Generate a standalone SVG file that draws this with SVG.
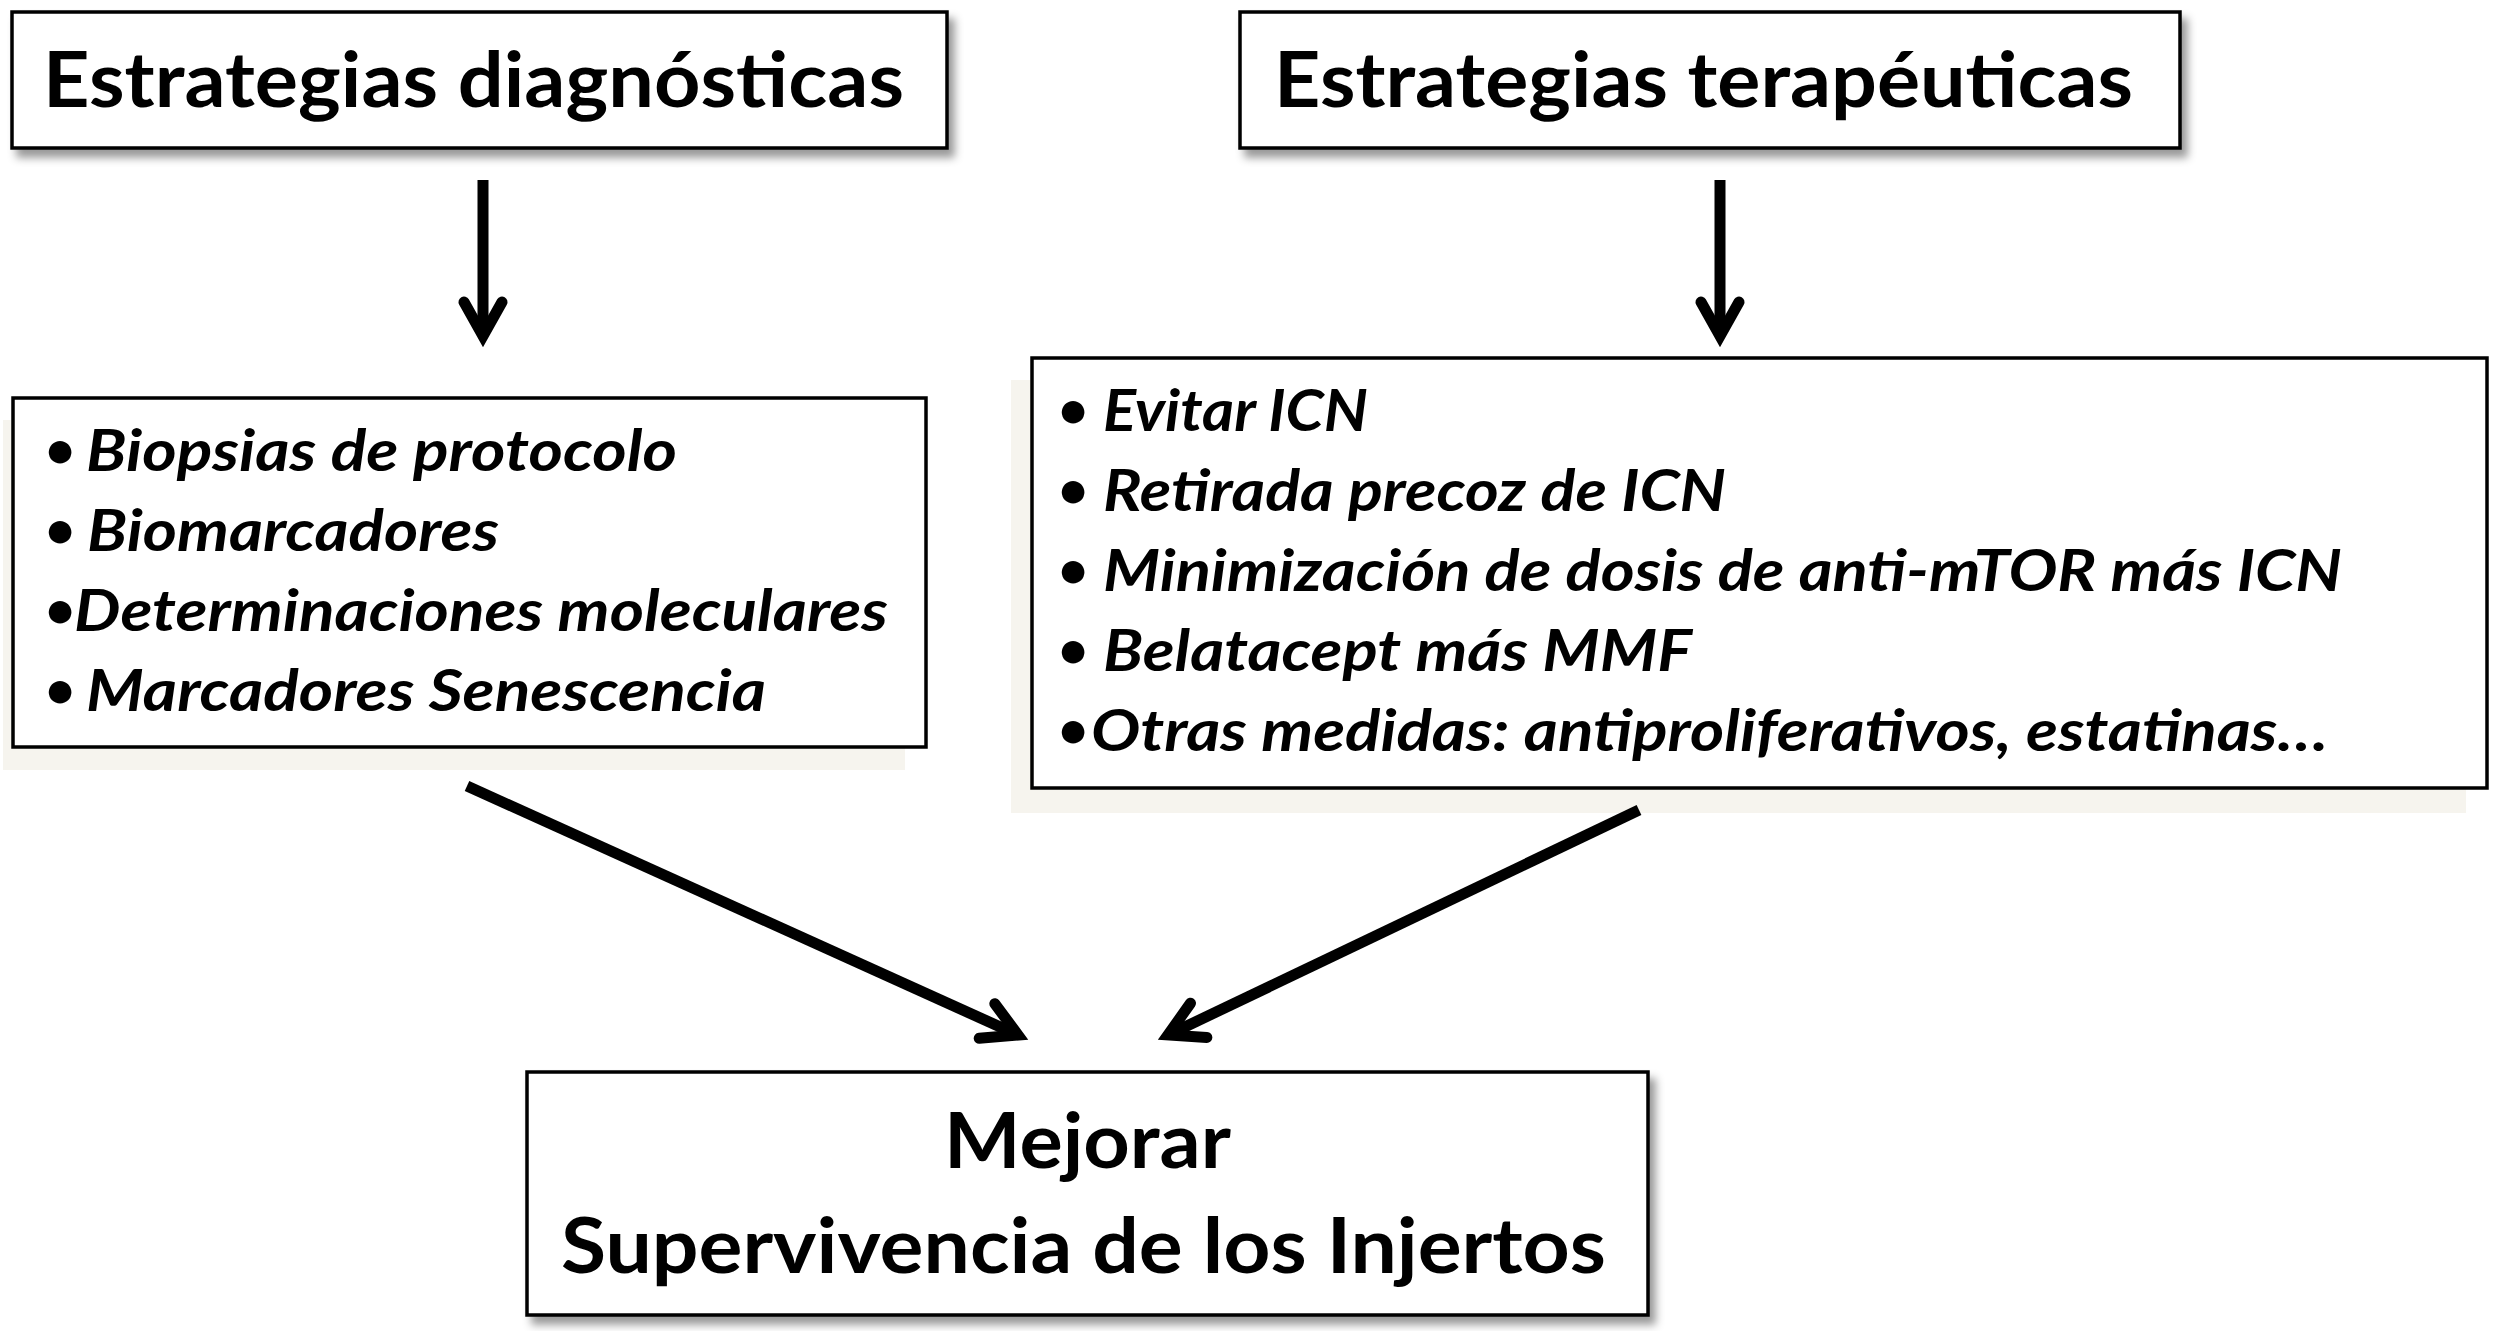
<svg xmlns="http://www.w3.org/2000/svg" width="2498" height="1331" viewBox="0 0 2498 1331">
<defs>
<style>
.box{fill:#fff;stroke:#000;stroke-width:3.5}
.back{fill:#f6f4ee;stroke:none}
.head{font-family:Lato,"Open Sans","Liberation Sans",sans-serif;font-weight:bold;font-size:77px;fill:#000}
.item{font-family:Lato,"Open Sans","Liberation Sans",sans-serif;font-style:italic;font-weight:bold;font-size:58px;fill:#000}
.bul{font-size:52px;font-style:normal}
.conn{fill:none;stroke:#000;stroke-width:11;stroke-linecap:butt}
</style>
<filter id="shadow" x="-5%" y="-10%" width="115%" height="130%">
<feDropShadow dx="6" dy="8" stdDeviation="4" flood-color="#000" flood-opacity="0.4"/>
</filter>
<marker id="chev" markerUnits="userSpaceOnUse" markerWidth="1" markerHeight="1" orient="auto" refX="0" refY="0" overflow="visible">
<path d="M-34,-19 L0,0 L-34,19" fill="none" stroke="#000" stroke-width="11" stroke-linecap="round" stroke-linejoin="miter"/>
</marker>
</defs>
<rect width="2498" height="1331" fill="#fff"/>

<g id="node-diag-title">
<rect class="box" x="12" y="12" width="935" height="136" filter="url(#shadow)"/>
<text class="head" x="43" y="107" textLength="861" lengthAdjust="spacingAndGlyphs">Estrategias diagnósticas</text>
</g>

<g id="node-ther-title">
<rect class="box" x="1240" y="12" width="940" height="136" filter="url(#shadow)"/>
<text class="head" x="1274" y="107" textLength="859" lengthAdjust="spacingAndGlyphs">Estrategias terapéuticas</text>
</g>

<g id="node-diag-list">
<rect class="back" x="3" y="420" width="902" height="350"/>
<rect class="box" x="13" y="398" width="913" height="349"/>
<text class="item" y="471"><tspan class="bul" x="45" y="468">•</tspan><tspan x="86" y="471" textLength="591" lengthAdjust="spacingAndGlyphs">Biopsias de protocolo</tspan></text>
<text class="item" y="551"><tspan class="bul" x="45" y="548">•</tspan><tspan x="87" y="551" textLength="412" lengthAdjust="spacingAndGlyphs">Biomarcadores</tspan></text>
<text class="item" y="631"><tspan class="bul" x="45" y="628">•</tspan><tspan x="74" y="631" textLength="814" lengthAdjust="spacingAndGlyphs">Determinaciones moleculares</tspan></text>
<text class="item" y="711"><tspan class="bul" x="45" y="708">•</tspan><tspan x="86" y="711" textLength="680" lengthAdjust="spacingAndGlyphs">Marcadores Senescencia</tspan></text>
</g>

<g id="node-ther-list">
<rect class="back" x="1011" y="380" width="1455" height="433"/>
<rect class="box" x="1032" y="358" width="1455" height="430"/>
<text class="item" y="431"><tspan class="bul" x="1058" y="428">•</tspan><tspan x="1103" y="431" textLength="265" lengthAdjust="spacingAndGlyphs">Evitar ICN</tspan></text>
<text class="item" y="511"><tspan class="bul" x="1058" y="508">•</tspan><tspan x="1103" y="511" textLength="623" lengthAdjust="spacingAndGlyphs">Retirada precoz de ICN</tspan></text>
<text class="item" y="591"><tspan class="bul" x="1058" y="588">•</tspan><tspan x="1103" y="591" textLength="1239" lengthAdjust="spacingAndGlyphs">Minimización de dosis de anti-mTOR más ICN</tspan></text>
<text class="item" y="671"><tspan class="bul" x="1058" y="668">•</tspan><tspan x="1103" y="671" textLength="589" lengthAdjust="spacingAndGlyphs">Belatacept más MMF</tspan></text>
<text class="item" y="751"><tspan class="bul" x="1058" y="748">•</tspan><tspan x="1091" y="751" textLength="1237" lengthAdjust="spacingAndGlyphs">Otras medidas: antiproliferativos, estatinas…</tspan></text>
</g>

<g id="node-result">
<rect class="box" x="527" y="1072" width="1121" height="243" filter="url(#shadow)"/>
<text class="head" x="944" y="1168" textLength="287" lengthAdjust="spacingAndGlyphs">Mejorar</text>
<text class="head" x="561" y="1273" textLength="1045" lengthAdjust="spacingAndGlyphs">Supervivencia de los Injertos</text>
</g>

<g id="connectors">
<path class="conn" d="M483,180 L483,336" marker-end="url(#chev)"/>
<path class="conn" d="M1720,180 L1720,336" marker-end="url(#chev)"/>
<path class="conn" d="M467,786 L1018,1035" marker-end="url(#chev)"/>
<path class="conn" d="M1639,810 L1168,1035" marker-end="url(#chev)"/>
</g>
</svg>
